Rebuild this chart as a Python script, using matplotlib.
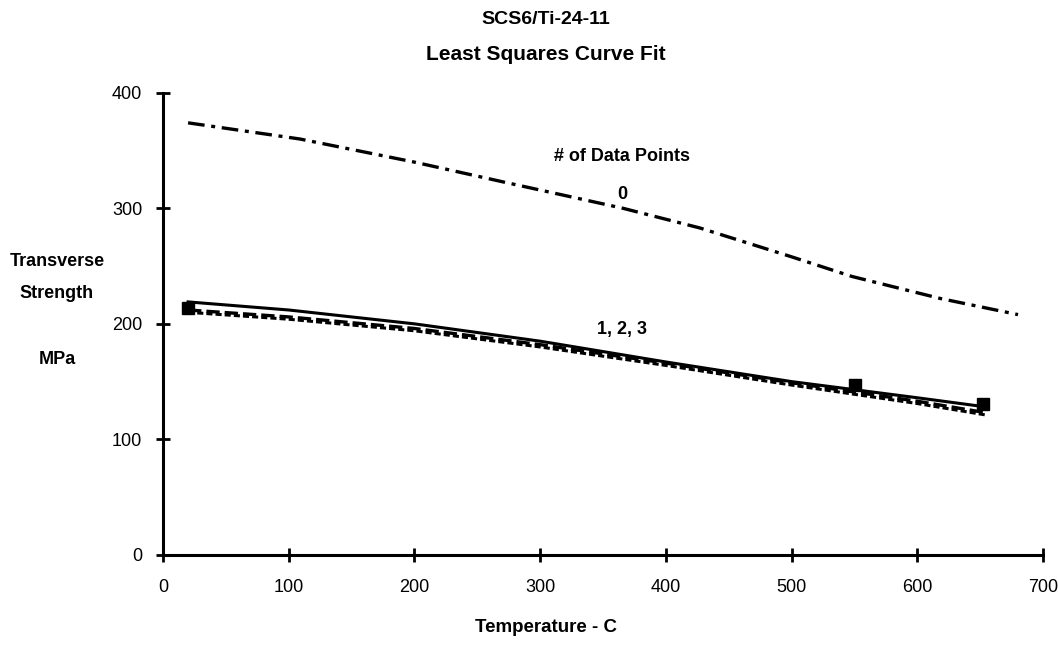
import matplotlib
matplotlib.use("Agg")
import matplotlib.pyplot as plt
import numpy as np

# Data
temp_fit = [20, 100, 200, 300, 400, 500, 600, 655]
fit_solid = [219, 212, 200, 185, 167, 150, 136, 128]
fit_dash1 = [212, 206, 196, 182, 166, 149, 133, 123]
fit_dash2 = [210, 204, 194, 180, 164, 147, 131, 121]

temp_zero = [20, 109, 200, 270, 366, 427, 500, 548, 618, 680]
fit_zero = [374, 360, 340, 323, 300, 283, 258, 241, 222, 208]

temp_pts = [20, 550, 652]
strength_pts = [214, 147, 131]

xticks = [0, 100, 200, 300, 400, 500, 600, 700]
yticks = [0, 100, 200, 300, 400]

narrow = ['Liberation Sans Narrow', 'Liberation Sans', 'DejaVu Sans']
regular = ['Liberation Sans', 'DejaVu Sans']

fig = plt.figure(figsize=(10.58, 6.49), dpi=100)
ax = fig.add_axes([0.154, 0.145, 0.832, 0.712])

ax.plot(temp_zero, fit_zero, color='black', lw=2.4, linestyle=(0, (5, 2, 1.2, 2)))
ax.plot(temp_fit, fit_dash2, color='black', lw=2.2, linestyle=(0, (2, 1)))
ax.plot(temp_fit, fit_dash1, color='black', lw=2.4, linestyle=(0, (4, 1.5)))
ax.plot(temp_fit, fit_solid, color='black', lw=2.2, linestyle='-')
ax.plot(temp_pts, strength_pts, linestyle='none', marker='s', color='black', markersize=9)

ax.set_xlim(0, 700)
ax.set_ylim(0, 400)
ax.set_xticks(xticks)
ax.set_yticks(yticks)
ax.spines['top'].set_visible(False)
ax.spines['right'].set_visible(False)
for s in ('left', 'bottom'):
    ax.spines[s].set_linewidth(2.2)
ax.tick_params(direction='inout', length=10, width=2, labelsize=13)
ax.tick_params(axis='x', pad=12)
ax.tick_params(axis='y', pad=10)
for lab in ax.get_xticklabels() + ax.get_yticklabels():
    lab.set_family(regular)

ax.text(365, 345, '# of Data Points', ha='center', va='center', fontsize=13,
        fontweight='bold', family=narrow)
ax.text(365, 312, '0', ha='center', va='center', fontsize=13,
        fontweight='bold', family=narrow)
ax.text(365, 195, '1, 2, 3', ha='center', va='center', fontsize=13,
        fontweight='bold', family=narrow)

fig.text(546 / 1058, 1 - 20 / 649, 'SCS6/Ti-24-11', ha='center', va='center',
         fontsize=14, fontweight='bold', family=narrow)
fig.text(546 / 1058, 1 - 55 / 649, 'Least Squares Curve Fit', ha='center', va='center',
         fontsize=15, fontweight='bold', family=narrow)
fig.text(57 / 1058, 1 - 262 / 649, 'Transverse', ha='center', va='center',
         fontsize=13, fontweight='bold', family=narrow)
fig.text(57 / 1058, 1 - 293 / 649, 'Strength', ha='center', va='center',
         fontsize=13, fontweight='bold', family=narrow)
fig.text(57 / 1058, 1 - 360 / 649, 'MPa', ha='center', va='center',
         fontsize=13, fontweight='bold', family=narrow)
fig.text(546 / 1058, 1 - 627 / 649, 'Temperature - C', ha='center', va='center',
         fontsize=13.5, fontweight='bold', family=narrow)

fig.savefig('out.png', dpi=100)
